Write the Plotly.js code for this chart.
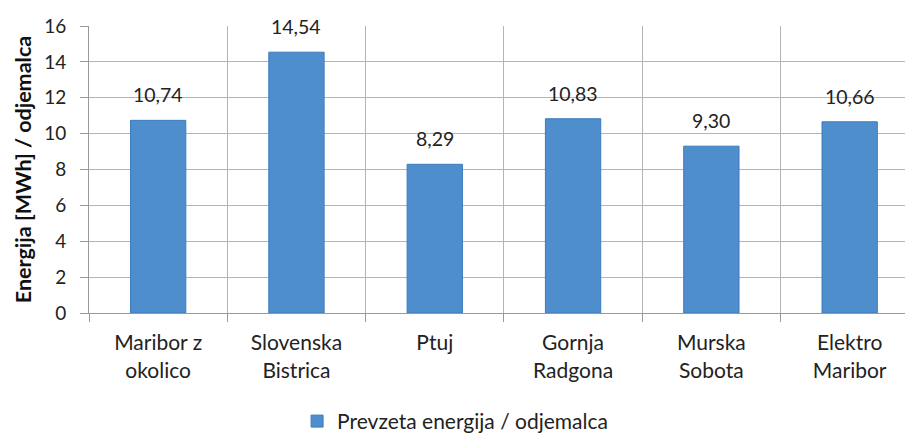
<!DOCTYPE html>
<html>
<head>
<meta charset="utf-8">
<script src="https://cdn.plot.ly/plotly-3.0.1.min.js"></script>
<style>html,body{margin:0;padding:0;background:#fff;}#chart{width:905px;height:439px;}</style>
</head>
<body>
<div id="chart"></div>
<script>
const categories = ["Maribor z<br>okolico", "Slovenska<br>Bistrica", "Ptuj", "Gornja<br>Radgona", "Murska<br>Sobota", "Elektro<br>Maribor"];
const values = [10.74, 14.54, 8.29, 10.83, 9.30, 10.66];
const valueLabels = ["10,74", "14,54", "8,29", "10,83", "9,30", "10,66"];
const seriesName = "Prevzeta energija / odjemalca";
const yTicks = [0, 2, 4, 6, 8, 10, 12, 14, 16];

const FONT = "Lato, 'Open Sans', sans-serif";
const trace = {
  type: "bar",
  x: categories,
  y: values,
  name: seriesName,
  marker: {color: "#4f8ecd", line: {color: "#3b7cbf", width: 1}},
  width: 0.4,
  hoverinfo: "skip"
};

const annotations = categories.map((c, i) => ({
  x: c, y: values[i], xref: "x", yref: "y",
  text: valueLabels[i], showarrow: false,
  yanchor: "bottom", yshift: 12,
  font: {family: FONT, size: 19.5, color: "#222"}
}));

const layout = {
  width: 905, height: 439,
  margin: {l: 89, r: 0, t: 26, b: 126, autoexpand: false},
  paper_bgcolor: "#fff", plot_bgcolor: "#fff",
  showlegend: true,
  legend: {orientation: "h", x: 0.255, xanchor: "left", xref: "paper",
    yref: "container", y: 0.04, yanchor: "middle",
    font: {family: FONT, size: 21, color: "#222"}},
  xaxis: {
    type: "category",
    range: [-0.5, 5.4],
    tickson: "boundaries",
    showgrid: true, gridcolor: "#b4b4b4", gridwidth: 1,
    ticks: "outside", ticklen: 8, tickcolor: "#999",
    ticklabelstandoff: 11,
    showline: true, linecolor: "#999", linewidth: 1,
    tickfont: {family: FONT, size: 21, color: "#222"},
    fixedrange: true
  },
  yaxis: {
    range: [0, 16],
    tickvals: yTicks,
    ticktext: yTicks.map(String),
    showgrid: true, gridcolor: "#b4b4b4", gridwidth: 1,
    zeroline: false,
    ticks: "outside", ticklen: 8, tickcolor: "#999",
    ticklabelstandoff: 10,
    showline: true, linecolor: "#999", linewidth: 1,
    tickfont: {family: FONT, size: 19, color: "#222"},
    title: {text: "Energija [MWh] / odjemalca", font: {family: FONT, size: 21.5, color: "#111", weight: "bold"}, standoff: 6},
    fixedrange: true
  },
  annotations: annotations
};

Plotly.newPlot("chart", [trace], layout, {displayModeBar: false, staticPlot: true});
</script>
</body>
</html>
